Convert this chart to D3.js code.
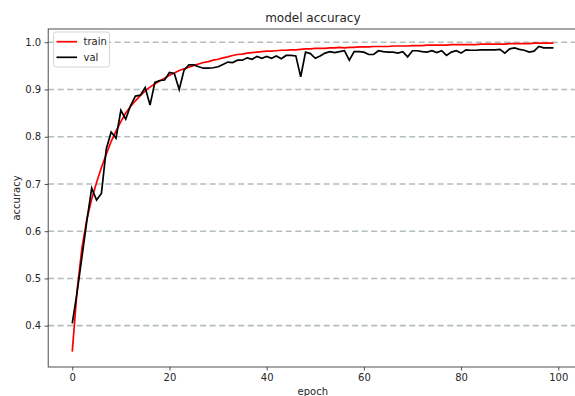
<!DOCTYPE html>
<html>
<head>
<meta charset="utf-8">
<script src="https://cdn.jsdelivr.net/npm/d3@7/dist/d3.min.js"></script>
<style>
  html, body { margin: 0; padding: 0; background: #fff; overflow: hidden; }
  svg { display: block; font-family: "DejaVu Sans", sans-serif; }
</style>
</head>
<body>
<svg id="chart" width="575" height="396"></svg>
<script>
const epochs = d3.range(0, 100);
const train = [
  0.345, 0.475, 0.565, 0.625, 0.668, 0.703, 0.735, 0.763, 0.790, 0.812,
  0.832, 0.850, 0.864, 0.876, 0.887, 0.897, 0.905, 0.912, 0.918, 0.924,
  0.930, 0.935, 0.940, 0.944, 0.947, 0.951, 0.954, 0.957, 0.959, 0.962,
  0.964, 0.967, 0.969, 0.972, 0.974, 0.975, 0.977, 0.978, 0.979, 0.980,
  0.981, 0.981, 0.982, 0.983, 0.983, 0.984, 0.984, 0.985, 0.986, 0.986,
  0.987, 0.987, 0.987, 0.988, 0.988, 0.989, 0.988, 0.989, 0.989, 0.990,
  0.990, 0.990, 0.991, 0.991, 0.991, 0.991, 0.992, 0.992, 0.992, 0.992,
  0.993, 0.993, 0.993, 0.994, 0.994, 0.994, 0.994, 0.994, 0.995, 0.995,
  0.995, 0.995, 0.995, 0.995, 0.996, 0.996, 0.996, 0.996, 0.996, 0.996,
  0.997, 0.997, 0.997, 0.997, 0.997, 0.998, 0.998, 0.998, 0.998, 0.998
];
const val = [
  0.405, 0.471, 0.546, 0.622, 0.691, 0.666, 0.680, 0.774, 0.810, 0.797,
  0.856, 0.837, 0.866, 0.886, 0.888, 0.904, 0.867, 0.915, 0.919, 0.920,
  0.936, 0.934, 0.900, 0.941, 0.952, 0.952, 0.948, 0.945, 0.945, 0.946,
  0.948, 0.953, 0.958, 0.957, 0.962, 0.962, 0.967, 0.964, 0.970, 0.966,
  0.970, 0.966, 0.971, 0.965, 0.972, 0.972, 0.971, 0.927, 0.979, 0.976,
  0.966, 0.971, 0.977, 0.980, 0.978, 0.980, 0.982, 0.962, 0.980, 0.980,
  0.979, 0.974, 0.974, 0.982, 0.980, 0.979, 0.979, 0.977, 0.980, 0.969,
  0.982, 0.982, 0.980, 0.979, 0.982, 0.978, 0.982, 0.972, 0.979, 0.982,
  0.977, 0.984, 0.983, 0.983, 0.984, 0.984, 0.984, 0.984, 0.985, 0.977,
  0.986, 0.988, 0.985, 0.983, 0.979, 0.981, 0.991, 0.988, 0.988, 0.988
];
const xTicks = [0, 20, 40, 60, 80, 100];
const yTicks = [0.4, 0.5, 0.6, 0.7, 0.8, 0.9, 1.0];
const seriesNames = ["train", "val"];

(function () {
const svg = d3.select("#chart");
const pl = 48.2, pr = 577.5, pt = 29, pb = 367;
const x = d3.scaleLinear().domain([-4.95, 103.95]).range([pl, pr]);
const y = d3.scaleLinear().domain([0.3125, 1.028]).range([pb, pt]);
const textColor = "#262626";
const spineColor = "#3a3a3a";

// grid
svg.append("g").selectAll("line").data(yTicks).join("line")
  .attr("x1", pl).attr("x2", pr)
  .attr("y1", d => y(d)).attr("y2", d => y(d))
  .attr("stroke", "#b3bdbd").attr("stroke-width", 1.6)
  .attr("stroke-dasharray", "6,3.5");

// axes
const xAxis = d3.axisBottom(x).tickValues(xTicks).tickSize(3.5).tickPadding(3.5).tickFormat(d3.format("d"));
const yAxis = d3.axisLeft(y).tickValues(yTicks).tickSize(3.5).tickPadding(3.5).tickFormat(d3.format(".1f"));
const gx = svg.append("g").attr("transform", `translate(0,${pb})`).call(xAxis);
const gy = svg.append("g").attr("transform", `translate(${pl},0)`).call(yAxis);
[gx, gy].forEach(g => {
  g.select(".domain").remove();
  g.selectAll(".tick line").attr("stroke", spineColor).attr("stroke-width", 0.9);
  g.selectAll(".tick text").attr("fill", textColor).attr("font-size", 10)
    .attr("font-family", "DejaVu Sans, sans-serif");
});

// spines
svg.append("rect").attr("x", pl).attr("y", pt)
  .attr("width", pr - pl).attr("height", pb - pt)
  .attr("fill", "none").attr("stroke", spineColor).attr("stroke-width", 0.9);

// lines
const line = d3.line().x((d, i) => x(epochs[i])).y(d => y(d));
svg.append("path").datum(train).attr("d", line)
  .attr("fill", "none").attr("stroke", "#ff0000").attr("stroke-width", 1.7);
svg.append("path").datum(val).attr("d", line)
  .attr("fill", "none").attr("stroke", "#000000").attr("stroke-width", 1.7);

// title & labels
svg.append("text").attr("x", (pl + pr) / 2).attr("y", 22)
  .attr("text-anchor", "middle").attr("font-size", 12).attr("fill", textColor)
  .text("model accuracy");
svg.append("text").attr("x", (pl + pr) / 2).attr("y", 395)
  .attr("text-anchor", "middle").attr("font-size", 10).attr("fill", textColor)
  .text("epoch");
svg.append("text").attr("transform", `translate(20,${(pt + pb) / 2}) rotate(-90)`)
  .attr("text-anchor", "middle").attr("font-size", 10).attr("fill", textColor)
  .text("accuracy");

// legend
const lg = svg.append("g");
lg.append("rect").attr("x", 53.5).attr("y", 32).attr("width", 56).attr("height", 35)
  .attr("rx", 2.5).attr("fill", "#fff").attr("fill-opacity", 0.8)
  .attr("stroke", "#d0d0d0").attr("stroke-width", 0.9);
const colors = ["#ff0000", "#000000"];
seriesNames.forEach((name, i) => {
  const yy = 41.7 + i * 15.6;
  lg.append("line").attr("x1", 56.5).attr("x2", 77).attr("y1", yy).attr("y2", yy)
    .attr("stroke", colors[i]).attr("stroke-width", 1.7);
  lg.append("text").attr("x", 83.5).attr("y", yy + 3.5)
    .attr("font-size", 10).attr("fill", textColor).text(name);
});
})();
</script>
</body>
</html>
